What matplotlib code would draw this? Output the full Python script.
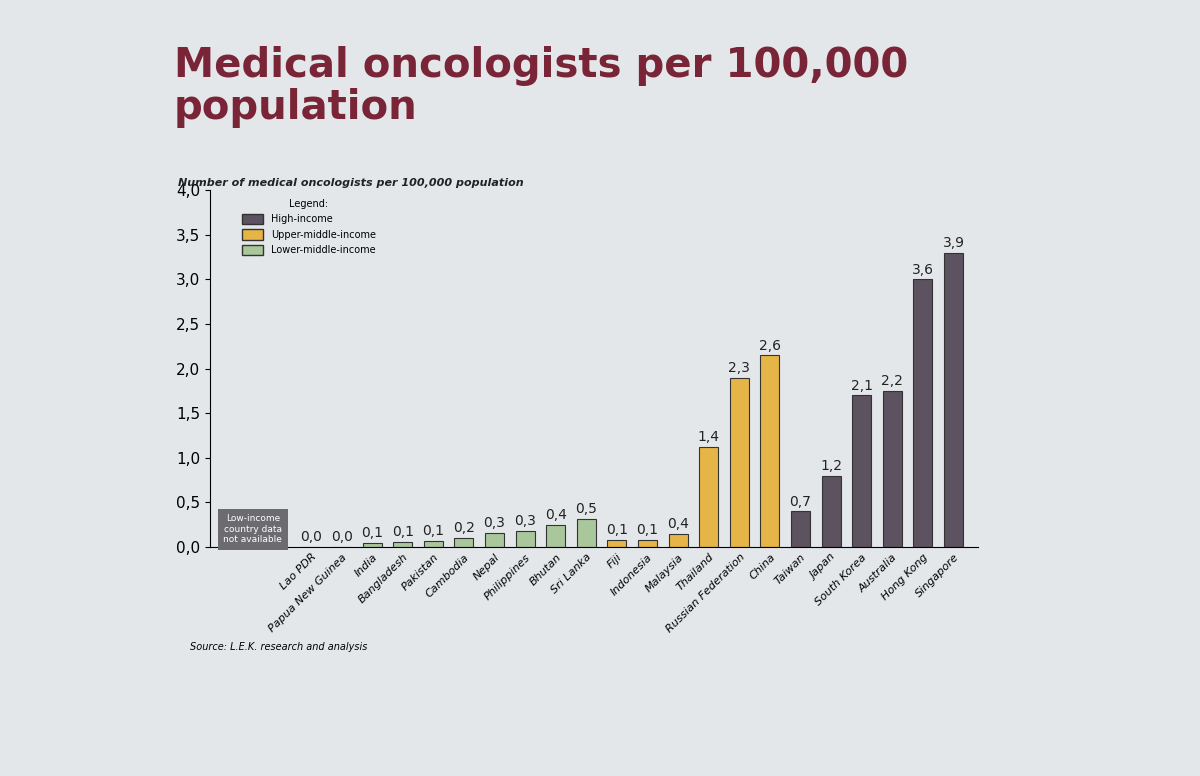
import numpy as np
import matplotlib.pyplot as plt
from matplotlib.patches import Patch

countries = ["Lao PDR", "Papua New Guinea", "India", "Bangladesh", "Pakistan", "Cambodia",
             "Nepal", "Philippines", "Bhutan", "Sri Lanka",
             "Fiji", "Indonesia", "Malaysia", "Thailand", "Russian Federation", "China",
             "Taiwan", "Japan", "South Korea", "Australia", "Hong Kong", "Singapore"]
heights = [0.0, 0.0, 0.05, 0.06, 0.07, 0.1, 0.16, 0.18, 0.25, 0.32,
           0.08, 0.08, 0.15, 1.12, 1.9, 2.15,
           0.4, 0.8, 1.7, 1.75, 3.0, 3.3]
# value labels printed on the slide
labels = ["0,0", "0,0", "0,1", "0,1", "0,1", "0,2", "0,3", "0,3", "0,4", "0,5",
          "0,1", "0,1", "0,4", "1,4", "2,3", "2,6",
          "0,7", "1,2", "2,1", "2,2", "3,6", "3,9"]
groups = ["L"] * 10 + ["U"] * 6 + ["H"] * 6

colors = {"H": "#5d5260", "U": "#e6b548", "L": "#a9c79b"}
bg = "#e4e7ea"

fig = plt.figure(figsize=(12, 7.76), dpi=100, facecolor=bg)
fig.text(0.145, 0.835, "Medical oncologists per 100,000\npopulation", fontsize=29,
         fontweight="bold", color="#7a2438", va="bottom", linespacing=1.05)
fig.text(0.148, 0.76, "Number of medical oncologists per 100,000 population",
         fontsize=8, fontweight="bold", style="italic", color="#222")

ax = fig.add_axes([0.175, 0.295, 0.64, 0.46], facecolor=bg)
x = np.arange(len(countries)) + 3
ax.bar(x, heights, width=0.62, color=[colors[g] for g in groups],
       edgecolor="#333", linewidth=0.8)
for xi, h, lab in zip(x, heights, labels):
    ax.text(xi, h + 0.03, lab, ha="center", va="bottom", fontsize=10, color="#222")

ax.set_xlim(-0.3, x[-1] + 0.8)
ax.set_ylim(0, 4.0)
ax.set_yticks(np.arange(0, 4.01, 0.5))
ax.set_yticklabels([f"{v:.1f}".replace(".", ",") for v in np.arange(0, 4.01, 0.5)], fontsize=11)
ax.set_xticks(x)
ax.set_xticklabels(countries, rotation=45, ha="right", rotation_mode="anchor",
                   fontsize=8, style="italic")
for s in ["top", "right"]:
    ax.spines[s].set_visible(False)
ax.tick_params(axis="x", length=0)

ax.text(1.1, 0.2, "Low-income\ncountry data\nnot available", ha="center", va="center",
        fontsize=6.5, color="white", bbox=dict(facecolor="#6b6b70", edgecolor="none", pad=4))

handles = [Patch(facecolor=colors[k], edgecolor="#333") for k in ["H", "U", "L"]]
ax.legend(handles, ["High-income", "Upper-middle-income", "Lower-middle-income"],
          title="Legend:", loc="upper left", bbox_to_anchor=(0.03, 1.0), frameon=False,
          fontsize=7, title_fontsize=7, handlelength=2.2, handleheight=1.3)

fig.text(0.158, 0.163, "Source: L.E.K. research and analysis", fontsize=7, style="italic")
fig.savefig("out.png", dpi=100, facecolor=bg)
